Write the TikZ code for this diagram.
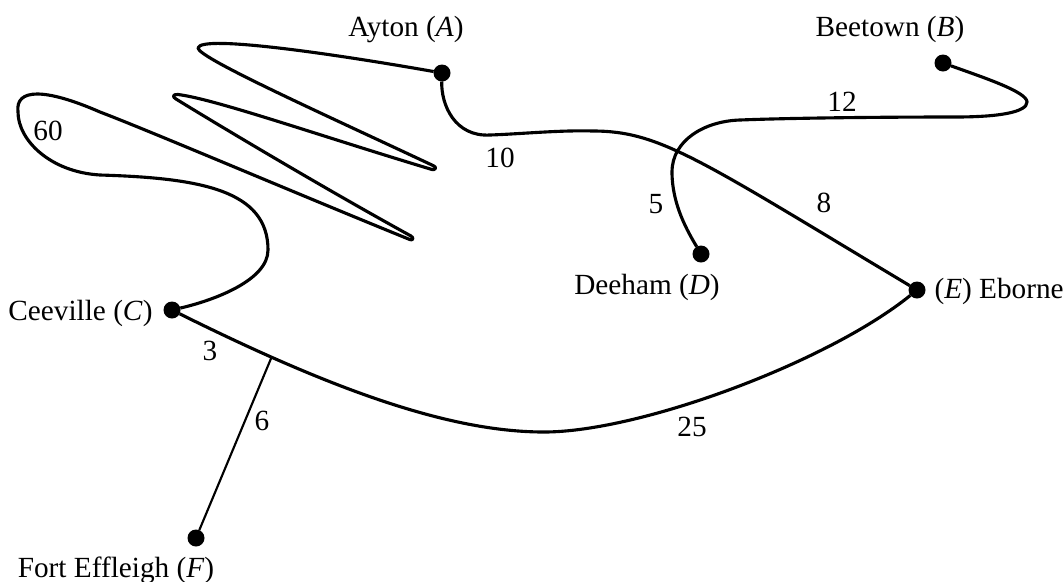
\documentclass[tikz,border=0pt]{standalone}
\usepackage{fontspec}
\setmainfont{Liberation Serif}
\usepackage{tkz-graph}

\begin{document}
\begin{tikzpicture}[x=0.4pt,y=-0.4pt]
                \tikzset{VertexStyle/.style = {shape=circle, fill=black, inner sep=0pt, minimum size=6.8pt}}
                \tikzset{EdgeStyle/.style = {line width=0.85pt}}
                \tikzset{RoadStyle/.style = {line width=1.25pt, line join=round}}
                \tikzset{TownStyle/.style = {inner sep=0pt, anchor=base, font=\fontsize{11.7}{14}\selectfont}}
                \tikzset{WeightStyle/.style = {TownStyle}}
                \useasboundingbox (0,0) rectangle (1064,581);
                \Vertex[x=442, y=73, NoLabel]{A}
                \Vertex[x=943, y=63, NoLabel]{B}
                \Vertex[x=172, y=310, NoLabel]{C}
                \Vertex[x=701, y=254, NoLabel]{D}
                \Vertex[x=917, y=290, NoLabel]{E}
                \Vertex[x=196, y=538, NoLabel]{F}
                \node[TownStyle] (nA) at (406,36) {Ayton (\textit{A})};
                \node[TownStyle] (nB) at (890,36) {Beetown (\textit{B})};
                \node[TownStyle, anchor=base east] (nC) at (153,320) {Ceeville (\textit{C})};
                \node[TownStyle] (nD) at (647,294) {Deeham (\textit{D})};
                \node[TownStyle, anchor=base west] (nE) at (934,298) {(\textit{E}) Eborne};
                \node[TownStyle] (nF) at (116,577) {Fort Effleigh (\textit{F})};
                % roads
                \draw[RoadStyle] (A) .. controls (340,55) and (200,34) .. (198,48)
                    .. controls (198,58) and (330,117) .. (434,166)
                    .. controls (437,167.4) and (435,170.4) .. (432,169.5)
                    .. controls (322,136.5) and (215,99) .. (178,94.5)
                    .. controls (173,93.9) and (172,96.9) .. (176,99)
                    .. controls (210,120) and (320,186) .. (411,236)
                    .. controls (414,237.7) and (413,240.8) .. (410,239.6)
                    .. controls (300,195) and (150,131) .. (100,112)
                    .. controls (45,88) and (15,88) .. (18,112)
                    .. controls (18,140) and (50,172) .. (100,175)
                    .. controls (200,178) and (268,190) .. (268,250)
                    .. controls (268,280) and (215,300) .. (C);
                \draw[RoadStyle] (A) .. controls (441,105) and (455,137) .. (490,135)
                    .. controls (520,134) and (560,130) .. (593,131)
                    .. controls (660,131) and (700,160) .. (E);
                \draw[RoadStyle] (B) .. controls (985,78) and (1027,92) .. (1027,102)
                    .. controls (1027,112) and (1000,117) .. (955,117)
                    .. controls (880,117) and (790,118) .. (740,120)
                    .. controls (705,121) and (672,140) .. (672,172)
                    .. controls (672,205) and (688,232) .. (D);
                \draw[RoadStyle] (C) .. controls (333,390) and (450,432) .. (544,432) coordinate[pos=0.21] (CF)
                    .. controls (640,432) and (828,362) .. (E);
                \Edge(CF)(F)
                % distances
                \node[WeightStyle] (w60) at (48,140) {60};
                \node[WeightStyle] (w10) at (500,167) {10};
                \node[WeightStyle] (w12) at (842,111) {12};
                \node[WeightStyle] (w5) at (656,213) {5};
                \node[WeightStyle] (w8) at (824,212) {8};
                \node[WeightStyle] (w3) at (210,360) {3};
                \node[WeightStyle] (w6) at (262,430) {6};
                \node[WeightStyle] (w25) at (692,436) {25};
\end{tikzpicture}
\end{document}
